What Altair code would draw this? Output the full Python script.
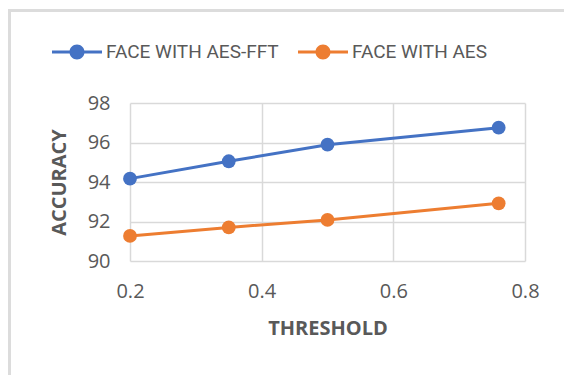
import altair as alt
import pandas as pd

# Accuracy against detection threshold for the two face pipelines
threshold = [0.2, 0.35, 0.5, 0.76]
acc_aes_fft = [94.17, 95.05, 95.89, 96.75]
acc_aes = [91.27, 91.70, 92.08, 92.92]
series_names = ["FACE WITH AES-FFT", "FACE WITH AES"]
series_colors = ["#4472C4", "#ED7D31"]
x_ticks = [0.2, 0.4, 0.6, 0.8]
y_ticks = [90, 92, 94, 96, 98]

df = pd.DataFrame({
    "threshold": threshold * 2,
    "accuracy": acc_aes_fft + acc_aes,
    "series": [series_names[0]] * len(threshold) + [series_names[1]] * len(threshold),
})

GRID = "#d9d9d9"
TEXT = "#595959"

# legend glyph: short bar with a dot in the middle
legend_shape = (
    "M-1,-0.06 L1,-0.06 L1,0.06 L-1,0.06 Z "
    "M-0.3,0 A0.3,0.3 0 1,1 0.3,0 A0.3,0.3 0 1,1 -0.3,0 Z"
)

x_enc = alt.X(
    "threshold:Q",
    title="THRESHOLD",
    scale=alt.Scale(domain=[0.2, 0.8], nice=False, zero=False),
    axis=alt.Axis(values=x_ticks, format=".1f", labelPadding=20,
                  titlePadding=17, labelFlush=False),
)
y_enc = alt.Y(
    "accuracy:Q",
    title="ACCURACY",
    scale=alt.Scale(domain=[90, 98], nice=False, zero=False),
    axis=alt.Axis(values=y_ticks, format="d", labelPadding=20, titlePadding=18),
)
color_scale = alt.Scale(domain=series_names, range=series_colors)

base = alt.Chart(df)

lines = base.mark_line(strokeWidth=3).encode(
    x=x_enc,
    y=y_enc,
    color=alt.Color("series:N", scale=color_scale),
)

points = base.mark_point(filled=True, size=190, opacity=1).encode(
    x=x_enc,
    y=y_enc,
    color=alt.Color(
        "series:N",
        scale=color_scale,
        title=None,
        legend=alt.Legend(
            orient="none",
            direction="horizontal",
            legendX=-78,
            legendY=-76,
            symbolType=legend_shape,
            symbolSize=2500,
            symbolStrokeWidth=0,
            symbolOpacity=1,
            labelOffset=4,
            labelLimit=0,
            columnPadding=19,
            padding=0,
        ),
    ),
)

# outer frame edges (left and top)
frame_left = alt.Chart(df).mark_rule(color="#dcdcdc", strokeWidth=3).encode(
    x=alt.value(-120.5), y=alt.value(-93), y2=alt.value(275)
)
frame_top = alt.Chart(df).mark_rule(color="#dcdcdc", strokeWidth=2).encode(
    x=alt.value(-122), x2=alt.value(440), y=alt.value(-92.5)
)

chart = (
    alt.layer(frame_left, frame_top, lines, points)
    .properties(
        width=395,
        height=158,
        autosize="none",
        padding={"left": 130, "top": 103, "right": 39, "bottom": 114},
        background="white",
    )
    .configure_view(stroke=None)
    .configure_axis(
        grid=True,
        gridColor=GRID,
        gridWidth=1.5,
        domain=False,
        ticks=False,
        tickSize=0,
        labelFont="Open Sans",
        labelFontSize=20,
        labelColor=TEXT,
        titleFont="Open Sans",
        titleFontSize=20,
        titleFontWeight="bold",
        titleColor=TEXT,
    )
    .configure_legend(
        labelFont="Roboto",
        labelFontSize=19,
        labelColor=TEXT,
    )
)

chart.save("out.html", embed_options={"renderer": "svg", "actions": False})
